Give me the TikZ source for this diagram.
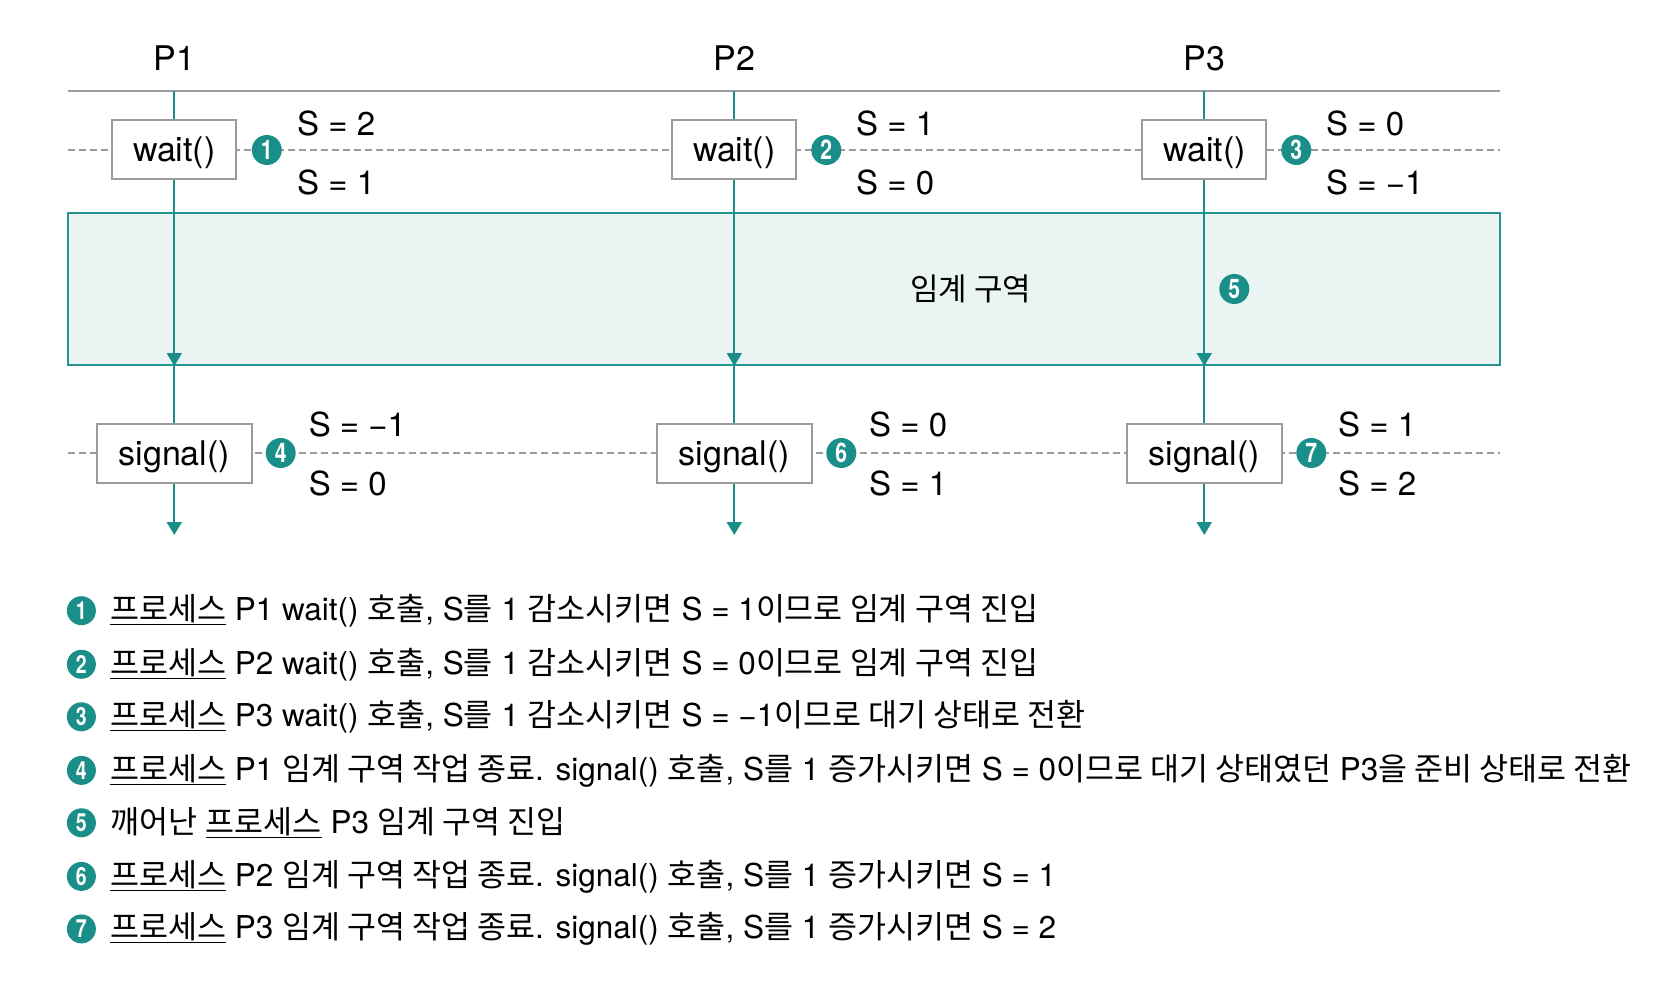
\documentclass[tikz,border=0pt]{standalone}
\usepackage{fontspec}
\setmainfont{TeX Gyre Heros}
\newfontfamily\kr{Noto Sans CJK KR}
\usetikzlibrary{arrows.meta}
\definecolor{tealc}{HTML}{1A8F89}
\definecolor{critfill}{HTML}{E9F4F3}
\definecolor{critline}{HTML}{23968F}
\definecolor{grayc}{HTML}{9B9B9B}
\newcommand\K[1]{{\kr #1}}
\newcommand\num[1]{\scalebox{0.78}[1]{#1}}
\newcommand\U[1]{\underline{\kr #1}}
\tikzset{
  lbl/.style={inner sep=0pt, font=\fontsize{34}{34}\selectfont},
  sval/.style={inner sep=0pt, anchor=west, font=\fontsize{33}{33}\selectfont},
  fbox/.style={draw=grayc, line width=2pt, fill=white, minimum height=59pt, inner sep=0pt, text height=28pt, text depth=4pt, font=\fontsize{34}{34}\selectfont},
  badge/.style={circle, fill=tealc, text=white, inner sep=0pt, minimum size=30pt, font=\bfseries\fontsize{27}{27}\selectfont},
  lbadge/.style={circle, fill=tealc, text=white, inner sep=0pt, minimum size=29pt, font=\bfseries\fontsize{25}{25}\selectfont},
  legend/.style={inner sep=0pt, anchor=west, font=\fontsize{31.5}{31.5}\selectfont},
  tline/.style={draw=tealc, line width=2pt},
  tarrow/.style={draw=tealc, line width=2pt, -{Triangle[width=15pt,length=13pt]}},
  gline/.style={draw=grayc, line width=2.2pt},
  dline/.style={draw=grayc, line width=1.8pt, dash pattern=on 7pt off 4pt},
}
\begin{document}
\begin{tikzpicture}[x=1pt,y=-1pt]
\useasboundingbox (0,0) rectangle (1680,1000);
% critical region
\node[draw=critline, line width=2pt, fill=critfill, minimum width=1432.5pt, minimum height=152pt, inner sep=0pt] (crit) at (783.75,289) {};
\node[inner sep=0pt, font=\kr\fontsize{31}{31}\selectfont] (critlbl) at (970.7,289) {임계 구역};
% top line and dashed lines
\draw[gline] (67.5,91) coordinate (tl) -- (1500,91) coordinate (tr);
\draw[dline] (67.5,150) coordinate (dl1) -- (1500,150) coordinate (dr1);
\draw[dline] (67.5,453) coordinate (dl2) -- (1500,453) coordinate (dr2);
% process labels
\node[lbl] (p1) at (174.3,58) {P1};
\node[lbl] (p2) at (734.3,58) {P2};
\node[lbl] (p3) at (1204.3,58) {P3};
% boxes
\node[fbox, minimum width=124pt] (w1) at (174.3,150) {wait()};
\node[fbox, minimum width=124pt] (w2) at (734.3,150) {wait()};
\node[fbox, minimum width=124pt] (w3) at (1204.3,150) {wait()};
\node[fbox, minimum width=155pt] (s1) at (174.3,453) {signal()};
\node[fbox, minimum width=155pt] (s2) at (734.3,453) {signal()};
\node[fbox, minimum width=155pt] (s3) at (1204.3,453) {signal()};
% end coordinates
\coordinate (e1) at (174.3,535);
\coordinate (e2) at (734.3,535);
\coordinate (e3) at (1204.3,535);
% connectors
\foreach \i in {1,2,3}{
  \draw[tline] (w\i |- tl) -- (w\i.north);
  \draw[tarrow] (w\i.south) -- (w\i |- crit.south);
  \draw[tline] (w\i |- crit.south) -- (s\i.north);
  \draw[tarrow] (s\i.south) -- (e\i);
}
% badges
\node[badge] (b1) at (266.8,150) {\num{1}};
\node[badge] (b2) at (826.3,150) {\num{2}};
\node[badge] (b3) at (1296.3,150) {\num{3}};
\node[badge] (b4) at (280.7,453) {\num{4}};
\node[badge] (b5) at (1234.3,289) {\num{5}};
\node[badge] (b6) at (841.3,453) {\num{6}};
\node[badge] (b7) at (1311.3,453) {\num{7}};
% S values
\node[sval] (v1a) at (297,123) {S = 2};
\node[sval] (v1b) at (297,182) {S = 1};
\node[sval] (v2a) at (856,123) {S = 1};
\node[sval] (v2b) at (856,182) {S = 0};
\node[sval] (v3a) at (1326,123) {S = 0};
\node[sval] (v3b) at (1326,182) {S = −1};
\node[sval] (v4a) at (308.6,424) {S = −1};
\node[sval] (v4b) at (308.6,483) {S = 0};
\node[sval] (v6a) at (869,424) {S = 0};
\node[sval] (v6b) at (869,483) {S = 1};
\node[sval] (v7a) at (1338,424) {S = 1};
\node[sval] (v7b) at (1338,483) {S = 2};
% legend
\node[lbadge] (l1) at (81.4,610.7) {\num{1}};
\node[lbadge] (l2) at (81.4,664.3) {\num{2}};
\node[lbadge] (l3) at (81.4,716.8) {\num{3}};
\node[lbadge] (l4) at (81.4,770.4) {\num{4}};
\node[lbadge] (l5) at (81.4,822.8) {\num{5}};
\node[lbadge] (l6) at (81.4,876.4) {\num{6}};
\node[lbadge] (l7) at (81.4,928.9) {\num{7}};
\node[legend] (t1) at (110,610.7) {\U{프로세스} P1 wait() \K{호출}, S\K{를} 1 \K{감소시키면} S = 1\K{이므로 임계 구역 진입}};
\node[legend] (t2) at (110,664.3) {\U{프로세스} P2 wait() \K{호출}, S\K{를} 1 \K{감소시키면} S = 0\K{이므로 임계 구역 진입}};
\node[legend] (t3) at (110,716.8) {\U{프로세스} P3 wait() \K{호출}, S\K{를} 1 \K{감소시키면} S = −1\K{이므로 대기 상태로 전환}};
\node[legend] (t4) at (110,770.4) {\U{프로세스} P1 \K{임계 구역 작업 종료}. signal() \K{호출}, S\K{를} 1 \K{증가시키면} S = 0\K{이므로 대기 상태였던} P3\K{을 준비 상태로 전환}};
\node[legend] (t5) at (110,822.8) {\K{깨어난} \U{프로세스} P3 \K{임계 구역 진입}};
\node[legend] (t6) at (110,876.4) {\U{프로세스} P2 \K{임계 구역 작업 종료}. signal() \K{호출}, S\K{를} 1 \K{증가시키면} S = 1};
\node[legend] (t7) at (110,928.9) {\U{프로세스} P3 \K{임계 구역 작업 종료}. signal() \K{호출}, S\K{를} 1 \K{증가시키면} S = 2};
\end{tikzpicture}
\end{document}
